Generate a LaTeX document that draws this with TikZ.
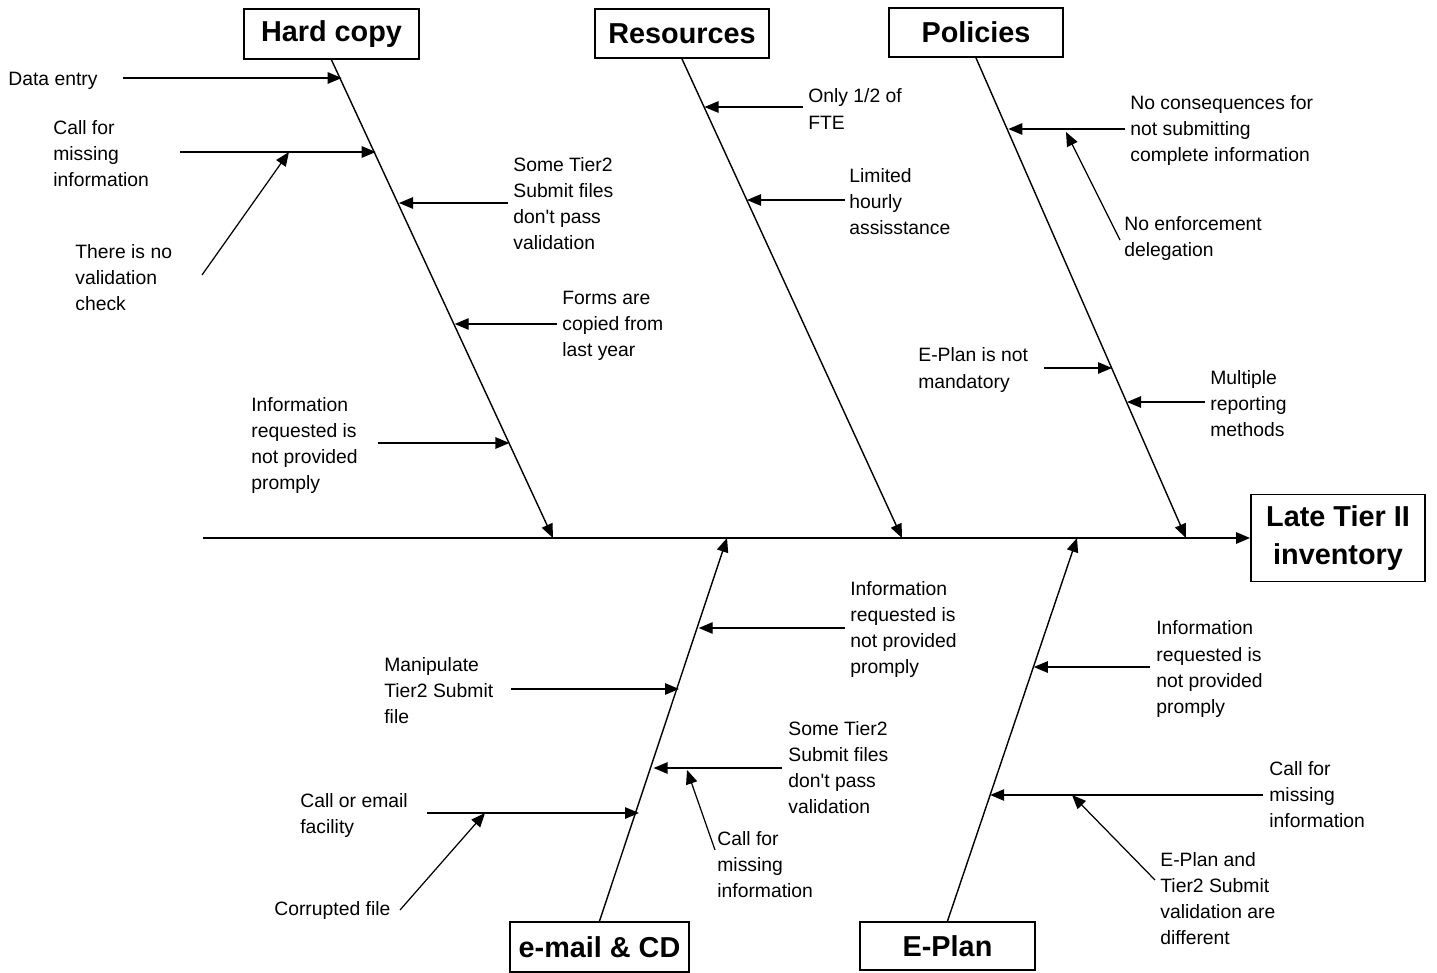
\documentclass[tikz,border=0pt]{standalone}
\usepackage{fontspec}
\setmainfont{Liberation Sans}
\usetikzlibrary{arrows.meta}

\begin{document}
\begin{tikzpicture}[x=0.2mm, y=-0.2mm, >={Triangle[length=2.8mm,width=2.3mm]},
    cause/.style={draw, line width=1.1pt, inner sep=0pt, align=center,
        font=\fontsize{16.4}{21.6}\selectfont\bfseries},
    note/.style={anchor=west, inner sep=0pt, align=left, yshift=-0.5mm,
        font=\fontsize{11}{14.8}\selectfont},
    bone/.style={->, line width=0.8pt},
    twig/.style={->, line width=0.7pt}]

    \useasboundingbox (0,0) rectangle (1437,973);

    % effect and the five causes
    \node[cause, minimum width=34.8mm, minimum height=17.4mm] (eff) at (1338,538) {Late Tier II\\inventory};
    \node[cause, minimum width=35mm, minimum height=10mm] (hc) at (331.5,34) {Hard copy};
    \node[cause, minimum width=34.8mm, minimum height=9.8mm] (rs) at (682,33.5) {Resources};
    \node[cause, minimum width=34.8mm, minimum height=9.8mm] (pl) at (976,32.5) {Policies};
    \node[cause, minimum width=35.8mm, minimum height=10mm] (em) at (599.5,947) {e-mail \& CD};
    \node[cause, minimum width=35mm, minimum height=9.6mm] (ep) at (947.5,946) {E-Plan};

    % spine and bones
    \coordinate (tail) at (203,538);
    \draw[bone] (tail) -- (eff.west);
    \coordinate (hcend) at (553,538);
    \coordinate (rsend) at (902,538);
    \coordinate (plend) at (1186,538);
    \coordinate (emend) at (727,538);
    \coordinate (epend) at (1077,538);
    \draw[bone] (hc.south) -- (hcend);
    \draw[bone] (rs.south) -- (rsend);
    \draw[bone] (pl.south) -- (plend);
    \draw[bone] (em.north) -- (emend);
    \draw[bone] (ep.north) -- (epend);

    % Hard copy
    \node[note] (de) at (8,78) {Data entry};
    \node[note] (cfm) at (53,151) {Call for\\missing\\information};
    \node[note] (nvc) at (75,275) {There is no\\validation\\check};
    \node[note] (stv) at (513,201) {Some Tier2\\Submit files\\don\textquotesingle t pass\\validation};
    \node[note] (fcl) at (562,323) {Forms are\\copied from\\last year};
    \node[note] (irn) at (251,443) {Information\\requested is\\not provided\\promply};
    \coordinate (de-s) at (123,78);   \coordinate (de-t) at (341.7,78);
    \coordinate (cfm-s) at (180,152); \coordinate (cfm-t) at (375.7,152);
    \coordinate (nvc-s) at (202,275); \coordinate (nvc-t) at (289,152);
    \coordinate (stv-s) at (508,203); \coordinate (stv-t) at (399,203);
    \coordinate (fcl-s) at (557,324); \coordinate (fcl-t) at (454.7,324);
    \coordinate (irn-s) at (378,443); \coordinate (irn-t) at (509.4,443);
    \draw[twig] (de-s) -- (de-t);
    \draw[twig] (cfm-s) -- (cfm-t);
    \draw[twig] (nvc-s) -- (nvc-t);
    \draw[twig] (stv-s) -- (stv-t);
    \draw[twig] (fcl-s) -- (fcl-t);
    \draw[twig] (irn-s) -- (irn-t);

    % Resources
    \node[note] (half) at (808,106.5) {Only 1/2 of\\FTE};
    \node[note] (lha) at (849,199) {Limited\\hourly\\assisstance};
    \coordinate (half-s) at (803,107); \coordinate (half-t) at (704.5,107);
    \coordinate (lha-s) at (845,200);  \coordinate (lha-t) at (747,200);
    \draw[twig] (half-s) -- (half-t);
    \draw[twig] (lha-s) -- (lha-t);

    % Policies
    \node[note] (ncq) at (1130,128.5) {No consequences for\\not submitting\\complete information};
    \node[note] (ned) at (1124,236) {No enforcement\\delegation};
    \node[note] (epm) at (918,367.5) {E-Plan is not\\mandatory};
    \node[note] (mrm) at (1210,401.5) {Multiple\\reporting\\methods};
    \coordinate (ncq-s) at (1125,129); \coordinate (ncq-t) at (1008.3,129);
    \coordinate (ned-s) at (1120,240); \coordinate (ned-t) at (1066,132);
    \coordinate (epm-s) at (1044,368); \coordinate (epm-t) at (1112,368);
    \coordinate (mrm-s) at (1205,402); \coordinate (mrm-t) at (1127,402);
    \draw[twig] (ncq-s) -- (ncq-t);
    \draw[twig] (ned-s) -- (ned-t);
    \draw[twig] (epm-s) -- (epm-t);
    \draw[twig] (mrm-s) -- (mrm-t);

    % e-mail & CD
    \node[note] (irn2) at (850,627) {Information\\requested is\\not provided\\promply};
    \node[note] (mts) at (384,688.5) {Manipulate\\Tier2 Submit\\file};
    \node[note] (stv2) at (788,765.5) {Some Tier2\\Submit files\\don\textquotesingle t pass\\validation};
    \node[note] (cfm2) at (717,862) {Call for\\missing\\information};
    \node[note] (cef) at (300,813) {Call or email\\facility};
    \node[note] (cor) at (274,908) {Corrupted file};
    \coordinate (irn2-s) at (845,628); \coordinate (irn2-t) at (698.7,628);
    \coordinate (mts-s) at (511,689);  \coordinate (mts-t) at (679,689);
    \coordinate (stv2-s) at (782,768); \coordinate (stv2-t) at (653.6,768);
    \coordinate (cfm2-s) at (715,850); \coordinate (cfm2-t) at (687,770);
    \coordinate (cef-s) at (427,813);  \coordinate (cef-t) at (639,813);
    \coordinate (cor-s) at (400,910);  \coordinate (cor-t) at (485,813);
    \draw[twig] (irn2-s) -- (irn2-t);
    \draw[twig] (mts-s) -- (mts-t);
    \draw[twig] (stv2-s) -- (stv2-t);
    \draw[twig] (cfm2-s) -- (cfm2-t);
    \draw[twig] (cef-s) -- (cef-t);
    \draw[twig] (cor-s) -- (cor-t);

    % E-Plan
    \node[note] (irn3) at (1156,666.5) {Information\\requested is\\not provided\\promply};
    \node[note] (cfm3) at (1269,792.5) {Call for\\missing\\information};
    \node[note] (epd) at (1160,896.5) {E-Plan and\\Tier2 Submit\\validation are\\different};
    \coordinate (irn3-s) at (1150,667); \coordinate (irn3-t) at (1033.8,667);
    \coordinate (cfm3-s) at (1263,795); \coordinate (cfm3-t) at (990.2,795);
    \coordinate (epd-s) at (1155,880);  \coordinate (epd-t) at (1072,795);
    \draw[twig] (irn3-s) -- (irn3-t);
    \draw[twig] (cfm3-s) -- (cfm3-t);
    \draw[twig] (epd-s) -- (epd-t);

\end{tikzpicture}
\end{document}
